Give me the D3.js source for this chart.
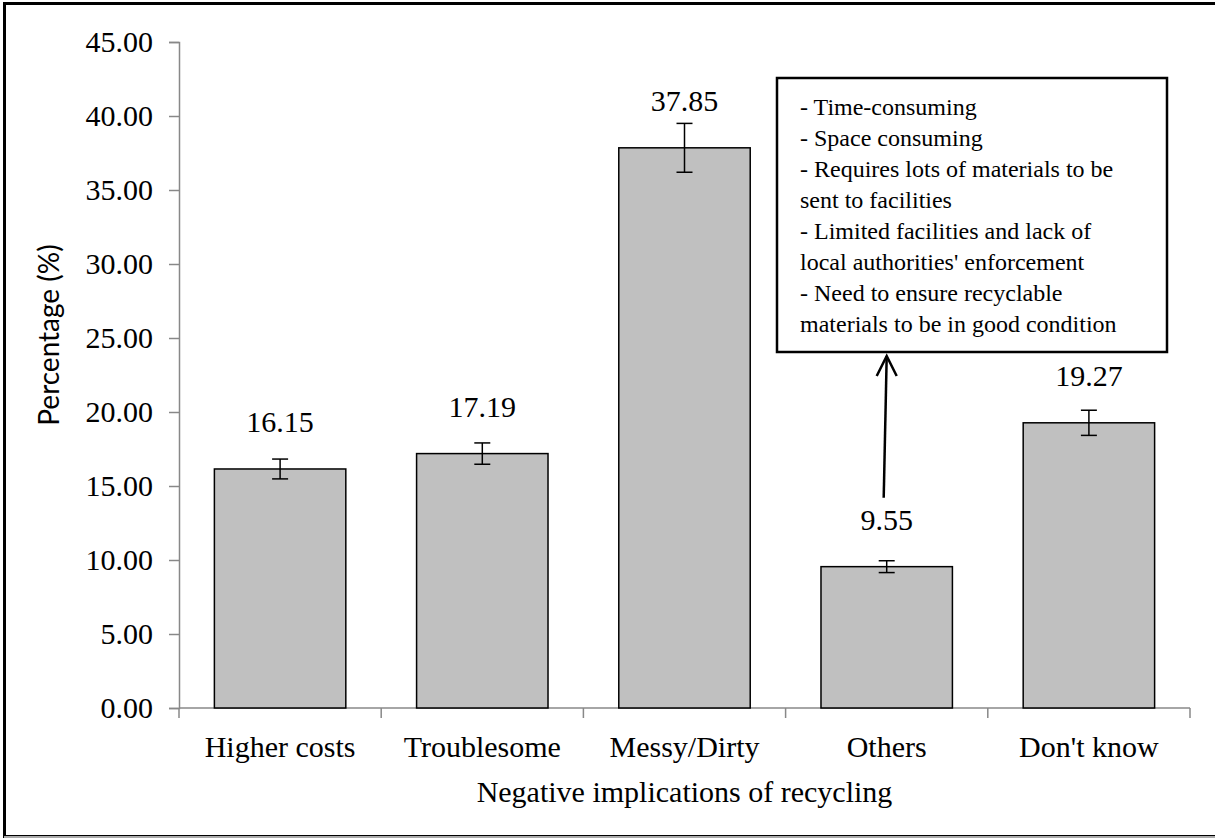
<!DOCTYPE html>
<html>
<head>
<meta charset="utf-8">
<script src="https://cdn.jsdelivr.net/npm/d3@7"></script>
<style>
  html, body { margin: 0; padding: 0; background: #fff; }
  svg { display: block; }
</style>
</head>
<body>
<svg id="chart" width="1215" height="838"></svg>
<script>
const categories = ["Higher costs", "Troublesome", "Messy/Dirty", "Others", "Don't know"];
const values = [16.15, 17.19, 37.85, 9.55, 19.27];
const errors = [0.67, 0.72, 1.65, 0.40, 0.85];
const yTicks = [0, 5, 10, 15, 20, 25, 30, 35, 40, 45];
const yAxisTitle = "Percentage (%)";
const xAxisTitle = "Negative implications of recycling";
const noteLines = [
  "- Time-consuming",
  "- Space consuming",
  "- Requires lots of materials to be",
  "sent to facilities",
  "- Limited facilities and lack of",
  "local authorities' enforcement",
  "- Need to ensure recyclable",
  "materials to be in good condition"
];
const noteTarget = "Others";

const svg = d3.select("#chart");
const serif = "'Liberation Serif', 'Times New Roman', serif";
const axisColor = "#888888";

// Outer frame
svg.append("rect").attr("x", 4.5).attr("y", 3.5).attr("width", 1240).attr("height", 833)
  .attr("fill", "none").attr("stroke", "#000").attr("stroke-width", 3);
svg.append("line").attr("x1", 4).attr("x2", 1215).attr("y1", 837).attr("y2", 837)
  .attr("stroke", "#aaa").attr("stroke-width", 2);

const x = d3.scaleBand().domain(categories).range([179, 1190]).paddingInner(0.35).paddingOuter(0.175);
const y = d3.scaleLinear().domain([0, 45]).range([708, 42]);

// Y axis
const yAxis = svg.append("g").attr("transform", "translate(179,0)")
  .call(d3.axisLeft(y).tickValues(yTicks).tickFormat(d3.format(".2f")).tickSize(10).tickPadding(16));
yAxis.select(".domain").attr("stroke", axisColor).attr("stroke-width", 1.5);
yAxis.selectAll(".tick line").attr("stroke", axisColor).attr("stroke-width", 1.5);
yAxis.selectAll(".tick text").attr("font-family", serif).attr("font-size", 30).attr("fill", "#000");

// X axis
const xAxisG = svg.append("g").attr("transform", "translate(0,708)");
xAxisG.append("line").attr("x1", 179).attr("x2", 1190).attr("y1", 0).attr("y2", 0)
  .attr("stroke", axisColor).attr("stroke-width", 1.5);
const bounds = categories.map(c => x(c) - x.step() * x.paddingInner() / 2);
bounds[0] = 179;
bounds.push(1190);
xAxisG.selectAll("line.xt").data(bounds).enter().append("line").attr("class", "xt")
  .attr("x1", d => d).attr("x2", d => d).attr("y1", 0).attr("y2", 10)
  .attr("stroke", axisColor).attr("stroke-width", 1.5);
xAxisG.selectAll("text.xl").data(categories).enter().append("text").attr("class", "xl")
  .attr("x", d => x(d) + x.bandwidth() / 2).attr("y", 49)
  .attr("text-anchor", "middle").attr("font-family", serif).attr("font-size", 30).attr("fill", "#000")
  .text(d => d);

// Bars
svg.selectAll("rect.bar").data(values).enter().append("rect").attr("class", "bar")
  .attr("x", (d, i) => x(categories[i])).attr("width", x.bandwidth())
  .attr("y", d => y(d)).attr("height", d => y(0) - y(d))
  .attr("fill", "#c0c0c0").attr("stroke", "#000").attr("stroke-width", 1.5);

// Error bars
const eb = svg.selectAll("g.err").data(values).enter().append("g").attr("class", "err");
eb.append("line")
  .attr("x1", (d, i) => x(categories[i]) + x.bandwidth() / 2)
  .attr("x2", (d, i) => x(categories[i]) + x.bandwidth() / 2)
  .attr("y1", (d, i) => y(d + errors[i])).attr("y2", (d, i) => y(d - errors[i]))
  .attr("stroke", "#000").attr("stroke-width", 1.5);
[1, -1].forEach(s => {
  eb.append("line")
    .attr("x1", (d, i) => x(categories[i]) + x.bandwidth() / 2 - 8)
    .attr("x2", (d, i) => x(categories[i]) + x.bandwidth() / 2 + 8)
    .attr("y1", (d, i) => y(d + s * errors[i])).attr("y2", (d, i) => y(d + s * errors[i]))
    .attr("stroke", "#000").attr("stroke-width", 1.5);
});

// Value labels
svg.selectAll("text.val").data(values).enter().append("text").attr("class", "val")
  .attr("x", (d, i) => x(categories[i]) + x.bandwidth() / 2)
  .attr("y", d => y(d) - 37)
  .attr("text-anchor", "middle").attr("font-family", serif).attr("font-size", 30).attr("fill", "#000")
  .text(d => d3.format(".2f")(d));

// Axis titles
svg.append("text").attr("transform", "translate(59,335) rotate(-90)")
  .attr("text-anchor", "middle").attr("font-family", "Lato, 'Open Sans', sans-serif")
  .attr("font-size", 28).attr("fill", "#000").text(yAxisTitle);
svg.append("text").attr("x", (179 + 1190) / 2).attr("y", 802)
  .attr("text-anchor", "middle").attr("font-family", serif).attr("font-size", 30).attr("fill", "#000")
  .text(xAxisTitle);

// Annotation box
svg.append("rect").attr("x", 777).attr("y", 78).attr("width", 390).attr("height", 274)
  .attr("fill", "#fff").attr("stroke", "#000").attr("stroke-width", 2.5);
svg.append("g").selectAll("text").data(noteLines).enter().append("text")
  .attr("x", 800).attr("y", (d, i) => 115 + i * 31)
  .attr("font-family", serif).attr("font-size", 24).attr("fill", "#000").text(d => d);

// Arrow
const ti = categories.indexOf(noteTarget);
const ax = x(noteTarget) + x.bandwidth() / 2;
const tipY = 356, baseY = y(values[ti]) - 69;
svg.append("line").attr("x1", ax - 3).attr("y1", baseY).attr("x2", ax).attr("y2", tipY)
  .attr("stroke", "#000").attr("stroke-width", 2.5);
svg.append("path").attr("d", `M${ax - 10},${tipY + 20} L${ax},${tipY} L${ax + 10},${tipY + 20}`)
  .attr("fill", "none").attr("stroke", "#000").attr("stroke-width", 2.5);
</script>
</body>
</html>
